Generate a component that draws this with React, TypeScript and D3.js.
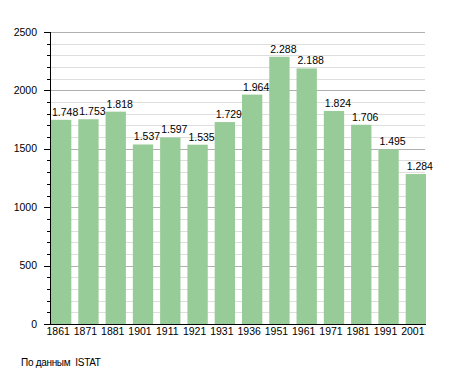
import React, { useEffect, useRef } from "react";
import * as d3 from "d3";

// census years and resident counts
const years = ["1861", "1871", "1881", "1901", "1911", "1921", "1931", "1936", "1951", "1961", "1971", "1981", "1991", "2001"];
const population = [1748, 1753, 1818, 1537, 1597, 1535, 1729, 1964, 2288, 2188, 1824, 1706, 1495, 1284];
const yTicks = [0, 500, 1000, 1500, 2000, 2500];
const sourceNote = "По данным  ISTAT";

const W = 455;
const H = 373;
const FONT = "'Liberation Sans', Arial, sans-serif";

function drawChart(el: SVGSVGElement) {
  const svg = d3.select(el);
  svg.selectAll("*").remove();

  const left = 50, right = 425, top = 32, bottom = 324;

  const x = d3.scaleBand<string>().domain(years).range([left + 1, right + 1]).paddingInner(0.255).paddingOuter(0);
  const y = d3.scaleLinear().domain([0, 2500]).range([bottom, top]);

  // minor grid every 100
  const minor = d3.range(100, 2501, 100).filter((v) => v % 500 !== 0);
  svg.append("g")
    .selectAll("line")
    .data(minor)
    .join("line")
    .attr("x1", left).attr("x2", right)
    .attr("y1", (d) => Math.round(y(d)) + 0.5).attr("y2", (d) => Math.round(y(d)) + 0.5)
    .attr("stroke", "#dedede");

  // major grid every 500
  svg.append("g")
    .selectAll("line")
    .data(yTicks.filter((v) => v > 0))
    .join("line")
    .attr("x1", left).attr("x2", right)
    .attr("y1", (d) => Math.round(y(d)) + 0.5).attr("y2", (d) => Math.round(y(d)) + 0.5)
    .attr("stroke", "#b0b0b0");

  // bars
  svg.append("g")
    .selectAll("rect")
    .data(population)
    .join("rect")
    .attr("x", (_d, i) => x(years[i])!)
    .attr("y", (d) => y(d))
    .attr("width", x.bandwidth())
    .attr("height", (d) => bottom - y(d))
    .attr("fill", "#97cb97");

  // value labels (start near the bar's left edge)
  svg.append("g")
    .selectAll("text")
    .data(population)
    .join("text")
    .attr("x", (_d, i) => x(years[i])! + 1)
    .attr("y", (d) => y(d) - 4)
    .attr("font-family", FONT)
    .attr("font-size", 10.5)
    .attr("fill", "#000")
    .text((d) => d3.format(",")(d).replace(",", "."));

  // y axis line and ticks
  svg.append("line")
    .attr("x1", left + 0.5).attr("x2", left + 0.5)
    .attr("y1", top).attr("y2", bottom + 1)
    .attr("stroke", "#000");

  svg.append("g")
    .selectAll("line")
    .data(minor)
    .join("line")
    .attr("x1", left - 3).attr("x2", left)
    .attr("y1", (d) => Math.round(y(d)) + 0.5).attr("y2", (d) => Math.round(y(d)) + 0.5)
    .attr("stroke", "#000");

  svg.append("g")
    .selectAll("line")
    .data(yTicks)
    .join("line")
    .attr("x1", left - 6).attr("x2", left)
    .attr("y1", (d) => Math.round(y(d)) + 0.5).attr("y2", (d) => Math.round(y(d)) + 0.5)
    .attr("stroke", "#000");

  svg.append("g")
    .selectAll("text")
    .data(yTicks)
    .join("text")
    .attr("x", 37)
    .attr("y", (d) => y(d) + 3.5)
    .attr("text-anchor", "end")
    .attr("font-family", FONT)
    .attr("font-size", 10.5)
    .text((d) => String(d));

  // x axis
  svg.append("line")
    .attr("x1", left).attr("x2", right + 1)
    .attr("y1", bottom + 0.5).attr("y2", bottom + 0.5)
    .attr("stroke", "#000");

  svg.append("g")
    .selectAll("text")
    .data(years)
    .join("text")
    .attr("x", (d) => x(d)! + x.bandwidth() / 2 - 3)
    .attr("y", bottom + 11)
    .attr("text-anchor", "middle")
    .attr("font-family", FONT)
    .attr("font-size", 10.5)
    .text((d) => d);

  svg.append("text")
    .attr("x", 21)
    .attr("y", 365.5)
    .attr("font-family", FONT)
    .attr("font-size", 10)
    .attr("letter-spacing", -0.3)
    .style("white-space", "pre")
    .text(sourceNote);
}

export default function App() {
  const ref = useRef<SVGSVGElement>(null);
  useEffect(() => {
    if (ref.current) drawChart(ref.current);
  }, []);
  return (
    <svg ref={ref} width={W} height={H} style={{ position: "absolute", left: 0, top: 0, background: "#fff" }} />
  );
}
